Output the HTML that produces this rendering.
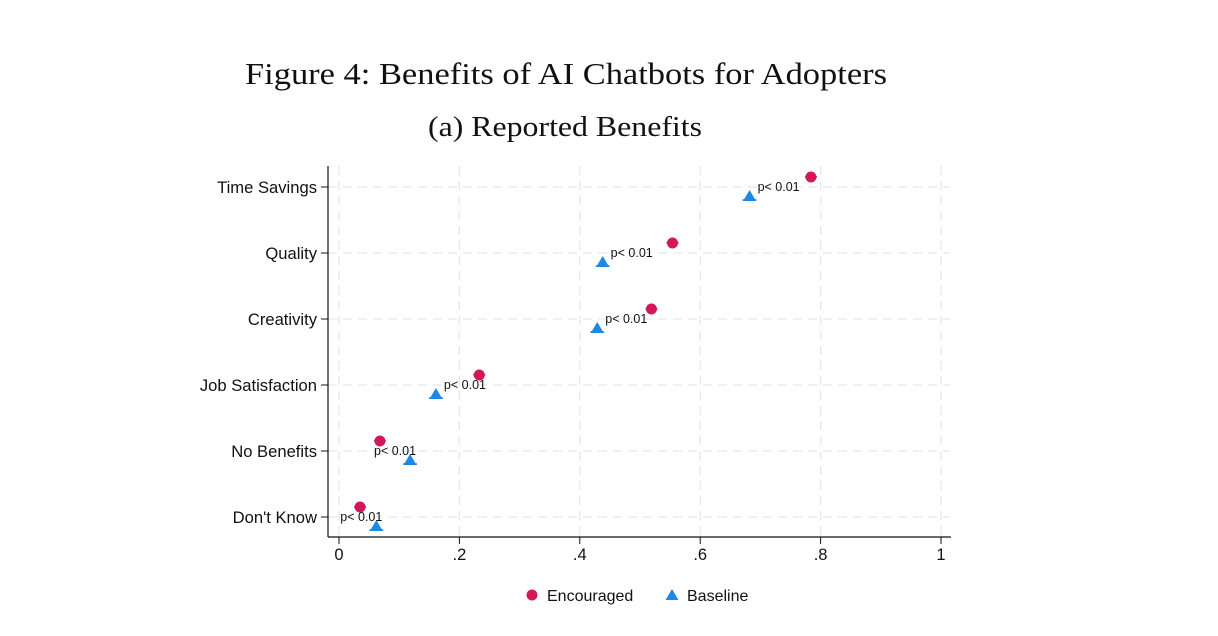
<!DOCTYPE html>
<html><head><meta charset="utf-8"><style>
html,body{margin:0;padding:0;background:#fff;width:1218px;height:636px;overflow:hidden}
svg{display:block}
</style></head><body>
<svg id="chart" width="1218" height="636" xmlns="http://www.w3.org/2000/svg">
<text x="245" y="84" textLength="642" lengthAdjust="spacingAndGlyphs" font-family="Liberation Serif, serif" font-size="31" fill="#111">Figure 4: Benefits of AI Chatbots for Adopters</text>
<text x="428" y="136" textLength="274" lengthAdjust="spacingAndGlyphs" font-family="Liberation Serif, serif" font-size="28" fill="#111">(a) Reported Benefits</text>
<g id="grid"></g><g id="axes"></g><g id="marks"></g>
<g>
<circle cx="532" cy="595" r="5.5" fill="#d2185a"/>
<text x="547" y="601" font-family="Liberation Sans, sans-serif" font-size="16" fill="#111">Encouraged</text>
<polygon points="672,589 678.5,600 665.5,600" fill="#1e88e5"/>
<text x="687" y="601" font-family="Liberation Sans, sans-serif" font-size="16" fill="#111">Baseline</text>
</g>
</svg>
<script>
const categories=["Time Savings","Quality","Creativity","Job Satisfaction","No Benefits","Don't Know"];
const encouraged=[0.784,0.554,0.519,0.233,0.068,0.035];
const baseline=[0.682,0.438,0.429,0.161,0.118,0.062];
const pLabels=["p< 0.01","p< 0.01","p< 0.01","p< 0.01","p< 0.01","p< 0.01"];
const xTicks=[0,0.2,0.4,0.6,0.8,1];
const xTickLabels=["0",".2",".4",".6",".8","1"];
const NS="http://www.w3.org/2000/svg";
const X=v=>339+v*602;
const Y=i=>187+i*66;
function mk(tag,attrs,parent){const e=document.createElementNS(NS,tag);for(const k in attrs)e.setAttribute(k,attrs[k]);parent.appendChild(e);return e;}
const grid=document.getElementById('grid'),axes=document.getElementById('axes'),marks=document.getElementById('marks');
xTicks.forEach((t,i)=>{
 const g=mk('line',{x1:X(t),x2:X(t),y1:166,y2:536,stroke:'#e6e6e6','stroke-width':1.3,'stroke-dasharray':'9,6'},grid);
 
 
 const tk=mk('line',{x1:X(t),x2:X(t),y1:537,y2:544,stroke:'#111','stroke-width':1},axes);
 
 
 const tl=mk('text',{x:X(t),y:560,'text-anchor':'middle','font-family':'Liberation Sans, sans-serif','font-size':16.5,fill:'#111'},axes);
 tl.textContent=xTickLabels[i];
 
 
});
categories.forEach((c,i)=>{
 const g=mk('line',{x1:328,x2:950,y1:Y(i),y2:Y(i),stroke:'#e6e6e6','stroke-width':1.3,'stroke-dasharray':'9,6'},grid);
 
 
 const tk=mk('line',{x1:321,x2:328,y1:Y(i),y2:Y(i),stroke:'#111','stroke-width':1},axes);
 
 
 const tl=mk('text',{x:317,y:Y(i)+6,'text-anchor':'end','font-family':'Liberation Sans, sans-serif','font-size':16.6,fill:'#111'},axes);
 tl.textContent=c;
 
 
 const ex=X(encouraged[i]),ey=Y(i)-10;
 const eb=mk('line',{x1:ex-6,x2:ex+6,y1:ey,y2:ey,stroke:'#d2185a','stroke-width':1.5},marks);
 
 
 const ep=mk('circle',{cx:ex,cy:ey,r:5.5,fill:'#d2185a'},marks);
 
 
 const bx=X(baseline[i]),by=Y(i)+9;
 const bb=mk('line',{x1:bx-7,x2:bx+7,y1:by+4,y2:by+4,stroke:'#1e88e5','stroke-width':1.5},marks);
 
 
 const bp=mk('polygon',{points:`${bx},${by-6} ${bx+6.5},${by+5} ${bx-6.5},${by+5}`,fill:'#1e88e5'},marks);
 
 
 const left=baseline[i]<0.13;
 const pl=mk('text',{x:left?bx-15:bx+8,y:Y(i)+4,'text-anchor':left?'middle':'start','font-family':'Liberation Sans, sans-serif','font-size':12.5,fill:'#111'},marks);
 pl.textContent=pLabels[i];
 
 
});
const ya=mk('line',{x1:328,x2:328,y1:166,y2:537,stroke:'#111','stroke-width':1.2},axes);


const xa=mk('line',{x1:328,x2:951,y1:537,y2:537,stroke:'#111','stroke-width':1.2},axes);


</script>
</body></html>
